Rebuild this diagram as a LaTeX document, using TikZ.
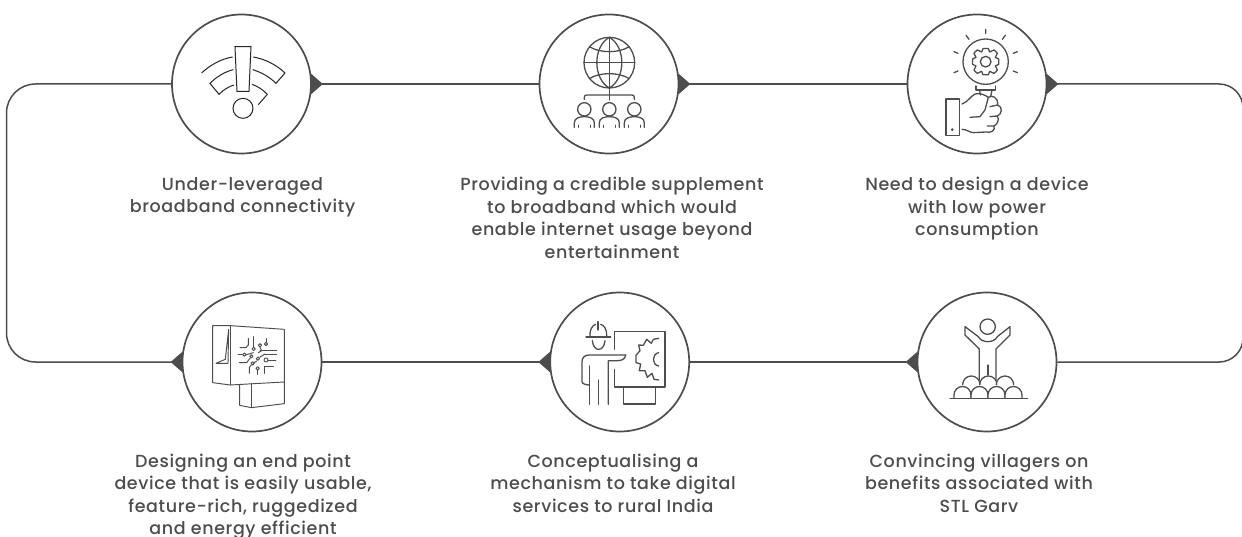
\documentclass[tikz,border=0pt]{standalone}
\usepackage{fontspec}
\setmainfont{Poppins}
\newfontfamily\capfont[LetterSpace=3.5]{Poppins Medium}
\definecolor{ink}{HTML}{4D4D4D}
\tikzset{
  x=1pt,y=-1pt,
  disc/.style={draw=ink,line width=1.7pt,circle,minimum size=139pt,inner sep=0pt,fill=white},
  link/.style={draw=ink,line width=1.5pt},
  caption/.style={text=ink,font=\capfont\fontsize{17.5}{22.5}\selectfont,align=center,anchor=north,inner sep=0pt},
  ico/.style={draw=ink,line width=1.3pt,line join=round,line cap=round},
  icodark/.style={draw=black!85,line width=1.0pt,line join=miter},
  tip/.style={fill=ink,draw=none}
}
\begin{document}
\begin{tikzpicture}[x=1pt,y=-1pt]
\useasboundingbox (0,0) rectangle (1242,537);
\fill[white] (0,0) rectangle (1242,537);
\node[disc] (c1) at (241.5,84) {};
\node[disc] (c2) at (609,84) {};
\node[disc] (c3) at (977,84) {};
\node[disc] (c4) at (252,362) {};
\node[disc] (c5) at (619.7,362) {};
\node[disc] (c6) at (987,362) {};
\draw[link] (c1.east) -- (c2.west);
\draw[link] (c2.east) -- (c3.west);
\draw[link] (c6.west) -- (c5.east);
\draw[link] (c5.west) -- (c4.east);
\draw[link,rounded corners=24pt] (c3.east) -- (1243,84) -- (1243,362) -- (c6.east);
\draw[link,rounded corners=29pt] (c4.west) -- (6.5,362) -- (6.5,84) -- (c1.west);
% arrow tips
\foreach \n in {c1,c2,c3}{
 \fill[tip] ([shift={(-1,-10.5)}]\n.east) -- ([shift={(11,0)}]\n.east) -- ([shift={(-1,10.5)}]\n.east) -- cycle;
}
\foreach \n in {c4,c5,c6}{
 \fill[tip] ([shift={(1,-10.5)}]\n.west) -- ([shift={(-11,0)}]\n.west) -- ([shift={(1,10.5)}]\n.west) -- cycle;
}
% captions
\node[caption] (t1) at (242.5,177) {Under-leveraged\\broadband connectivity};
\node[caption] (t2) at (612,177) {Providing a credible supplement\\to broadband which would\\enable internet usage beyond\\entertainment};
\node[caption] (t3) at (977,177) {Need to design a device\\with low power\\consumption};
\node[caption] (t4) at (243,453.5) {Designing an end point\\device that is easily usable,\\feature-rich, ruggedized\\and energy efficient};
\node[caption] (t5) at (613,453.5) {Conceptualising a\\mechanism to take digital\\services to rural India};
\node[caption] (t6) at (979,453.5) {Convincing villagers on\\benefits associated with\\STL Garv};
% icon 1 wifi
\begin{scope}[shift={(150,0)},x=0.3333pt,y=-0.3333pt,icodark]
\draw (255,140) -- (303,140) -- (297,274) -- (261,274) -- cycle;
\draw (279,325) circle[radius=30];
\draw (155,219) .. controls (180,195) and (215,176) .. (248,171);
\draw (310,171) .. controls (345,177) and (380,195) .. (405,219) -- (378,250) .. controls (360,232) and (335,217) .. (308,209);
\draw (250,209) .. controls (225,215) and (200,230) .. (180,250) -- (207,283) .. controls (220,270) and (235,260) .. (252,255);
\draw (306,253) .. controls (322,258) and (340,270) .. (352,283) -- (325,314);
\end{scope}
% icon 2 globe
\begin{scope}[shift={(520,0)},x=0.3333pt,y=-0.3333pt,ico]
\draw (268,188) circle[radius=76];
\draw (268,112) .. controls (218,140) and (218,236) .. (268,264) .. controls (318,236) and (318,140) .. (268,112);
\draw (268,112) -- (268,264);
\draw (192,188) -- (344,188);
\draw (208,140) .. controls (240,160) and (296,160) .. (328,140);
\draw (208,236) .. controls (240,216) and (296,216) .. (328,236);
\draw (268,264) -- (268,300);
\draw (193,298) -- (193,292) .. controls (193,287) and (196,285) .. (200,285) -- (336,285) .. controls (340,285) and (343,287) .. (343,292) -- (343,298);
\foreach \cx in {193,268,343}{
  \draw (\cx,328) circle[radius=20];
  \draw (\cx-30,382) -- (\cx-30,368) .. controls (\cx-30,355) and (\cx-15,350) .. (\cx,350) .. controls (\cx+15,350) and (\cx+30,355) .. (\cx+30,368) -- (\cx+30,382);
  \draw (\cx-18,376) -- (\cx-18,382) (\cx+18,376) -- (\cx+18,382);
}
\end{scope}
% icon 3 gear hand
\begin{scope}[shift={(890,0)},x=0.3333pt,y=-0.3333pt,ico]
\draw (287,185) circle[radius=68];
\draw (287,185) circle[radius=16];
\draw plot[smooth cycle,tension=0.25] coordinates {(279,146)(295,146)(299,156)(312,150)(322,160)(316,172)(326,177)(326,193)(316,198)(322,210)(312,220)(299,214)(295,224)(279,224)(275,214)(262,220)(252,210)(258,198)(248,193)(248,177)(258,172)(252,160)(262,150)(275,156)};
\draw (287,88) -- (287,100) (228,106) -- (237,118) (346,106) -- (337,118) (192,155) -- (204,160) (382,155) -- (370,160) (192,218) -- (204,213) (382,218) -- (370,213);
\draw (258,258) -- (258,270) -- (316,270) -- (316,258);
\draw (268,270) -- (272,285) (306,270) -- (302,290);
\draw (168,297) rectangle (209,406);
\fill[ink] (187,389) circle[radius=4.5];
\draw (216,312) .. controls (235,305) and (240,290) .. (255,282) .. controls (270,278) and (285,285) .. (295,292) .. controls (305,285) and (325,290) .. (323,315) .. controls (340,320) and (335,345) .. (322,348) .. controls (330,360) and (320,375) .. (312,378) .. controls (318,392) and (300,400) .. (288,396) -- (250,398) .. controls (240,398) and (230,388) .. (216,388);
\draw (295,292) -- (285,330) -- (270,350) -- (240,352);
\draw (300,320) -- (323,315) (300,350) -- (322,348) (292,378) -- (312,378);
\end{scope}
% icon 4 board
\begin{scope}[shift={(150,280)},x=0.3333pt,y=-0.3333pt,ico,line width=0.95pt]
\draw (188,137) -- (241,137) -- (403,148) -- (403,306) -- (241,315) -- (188,308) -- cycle;
\draw (241,137) -- (241,315);
\draw (236,148) -- (226,238) -- (198,250) -- (234,250) -- cycle;
\draw (269,314) -- (269,376) -- (304,383) -- (403,371) -- (403,306);
\draw (304,310) -- (304,383);
\draw (270,203) -- (288,203) -- (295,195) -- (295,175);
\draw (311,170) -- (311,202); \draw (311,207) circle[radius=5];
\draw (330,196) circle[radius=5]; \draw (330,202) -- (335,212) -- (325,218);
\draw (348,192) circle[radius=5]; \draw (348,187) -- (348,176);
\draw (330,212) -- (380,212) (345,222) -- (380,222);
\draw (264,222) -- (277,222); \draw (283,224) circle[radius=5]; \draw (289,224) -- (310,218);
\draw (268,248) -- (290,248) -- (300,235); \draw (304,229) circle[radius=5];
\draw (308,250) circle[radius=5]; \draw (298,280) -- (298,262) -- (304,255);
\draw (324,236) circle[radius=5]; \draw (329,232) -- (345,222);
\draw (348,240) circle[radius=6]; \draw (354,240) -- (378,240);
\draw (323,265) circle[radius=5]; \draw (323,270) -- (323,283);
\draw (342,280) -- (342,258) -- (370,258);
\draw (310,250) -- (320,243);
\end{scope}
% icon 5 engineer
\begin{scope}[shift={(530,280)},x=0.3333pt,y=-0.3333pt,ico]
\draw (204,125) -- (204,150);
\draw (168,171) -- (242,171);
\draw (180,168) .. controls (178,150) and (188,135) .. (197,133);
\draw (230,168) .. controls (232,150) and (222,135) .. (212,133);
\draw (187,182) .. controls (190,217) and (222,217) .. (225,182);
\draw (253,208) -- (253,155) -- (405,155) -- (405,321) -- (253,321) -- (253,268);
\draw (281,323) -- (281,372) -- (377,372) -- (377,323);
\draw (287,225) -- (178,225) .. controls (165,225) and (156,232) .. (156,245) -- (156,305) .. controls (156,312) and (170,315) .. (178,315);
\draw (287,225) .. controls (285,238) and (275,242) .. (262,242) -- (235,242) -- (235,373);
\draw (178,258) -- (178,373) (205,300) -- (205,373);
\draw (386,175) -- (370,178) -- (364,190) -- (350,178) -- (340,196) -- (326,195) -- (330,212) -- (318,226) -- (318,248) -- (332,252) -- (328,272) -- (345,272) -- (352,292) -- (366,280) -- (372,298) -- (386,300);
\draw (386,218) .. controls (365,222) and (365,255) .. (386,258);
\end{scope}
% icon 6 people
\begin{scope}[shift={(900,280)},x=0.3333pt,y=-0.3333pt,ico]
\draw (263,140) circle[radius=23];
\draw (238,300) -- (238,207) -- (195,165) -- (195,140) -- (235,170) .. controls (245,190) and (282,190) .. (292,170) -- (330,140) -- (330,165) -- (288,207) -- (288,300);
\draw (264,255) -- (264,285);
\foreach \a in {214,265,315}{
 \draw[fill=white] (\a-26,314) arc[start angle=180,end angle=360,radius=26];
}
\foreach \a in {187.5,238.5,289.5,340.5}{
 \draw[fill=white] (\a-25.5,355) -- (\a-25.5,345) arc[start angle=180,end angle=360,radius=25.5] -- (\a+25.5,355);
}
\draw (150,355) -- (383,355);
\end{scope}
\end{tikzpicture}
\end{document}
